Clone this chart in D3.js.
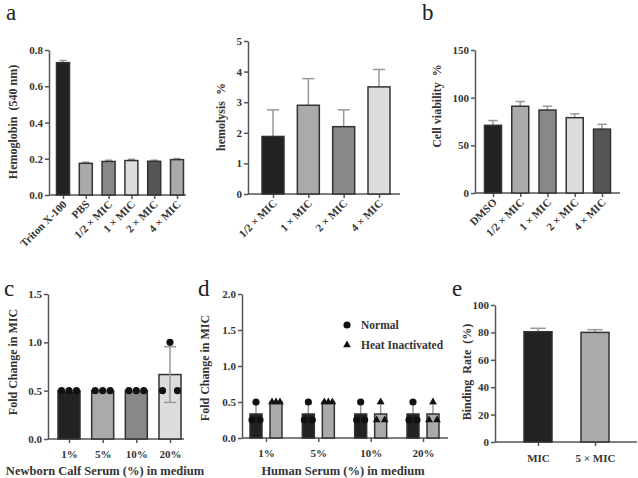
<!DOCTYPE html>
<html>
<head>
<meta charset="utf-8">
<script src="https://cdnjs.cloudflare.com/ajax/libs/d3/7.8.5/d3.min.js"></script>
<style>
  body { margin: 0; background: #fff; }
  svg text { font-family: "Liberation Serif", "Times New Roman", serif; white-space: pre; }
</style>
</head>
<body>
<div id="chart"></div>
<script>
// panel a (left): hemoglobin
const hemoCats = ['Triton X-100', 'PBS', '1/2 × MIC', '1 × MIC', '2 × MIC', '4 × MIC'];
const hemoVals = [0.73, 0.175, 0.185, 0.19, 0.186, 0.195];
const hemoErrs = [0.012, 0.006, 0.007, 0.007, 0.006, 0.006];
// panel a (right): hemolysis %
const lysisCats = ['1/2 × MIC', '1 × MIC', '2 × MIC', '4 × MIC'];
const lysisVals = [1.88, 2.9, 2.2, 3.5];
const lysisErrs = [0.87, 0.87, 0.55, 0.57];
// panel b: cell viability
const viaCats = ['DMSO', '1/2 × MIC', '1 × MIC', '2 × MIC', '4 × MIC'];
const viaVals = [71, 91, 87, 79, 67];
const viaErrs = [5, 5, 4, 4, 5];
// panel c: newborn calf serum
const calfCats = ['1%', '5%', '10%', '20%'];
const calfPoints = [[0.5, 0.5, 0.5], [0.5, 0.5, 0.5], [0.5, 0.5, 0.5], [0.5, 1.0, 0.5]];
// panel d: human serum
const humanCats = ['1%', '5%', '10%', '20%'];
const humanNormal = [[0.25, 0.5, 0.25], [0.25, 0.5, 0.25], [0.25, 0.5, 0.25], [0.25, 0.5, 0.25]];
const humanHeat = [[0.5, 0.5, 0.5], [0.5, 0.5, 0.5], [0.25, 0.5, 0.25], [0.25, 0.5, 0.25]];
// panel e: binding rate
const bindCats = ['MIC', '5 × MIC'];
const bindVals = [80.5, 80];
const bindErrs = [2.5, 2];

const W = 638, H = 478;
const axisColor = '#555';
const barStroke = '#333';
const errColor = '#999';

const svg = d3.select('#chart').append('svg')
    .attr('width', W).attr('height', H);

function mean(a){ return d3.mean(a); }
function sd(a){ return d3.deviation(a); }

function drawPanel(cfg){
    const g = svg.append('g');
    const y = d3.scaleLinear().domain([0, cfg.yMax]).range([cfg.yBot, cfg.yTop]);
    const x = d3.scalePoint().domain(cfg.cats).range([cfg.c0, cfg.c1]);

    // y axis
    const ya = g.append('g')
        .attr('transform', 'translate(' + cfg.x0 + ',0)')
        .call(d3.axisLeft(y).tickValues(cfg.ticks).tickFormat(cfg.fmt).tickSize(4).tickSizeOuter(0));
    ya.select('.domain').attr('stroke', axisColor).attr('stroke-width', 1.5);
    ya.selectAll('.tick line').attr('stroke', axisColor).attr('stroke-width', 1.5);
    ya.selectAll('.tick text').attr('fill', '#333').attr('font-size', 11).attr('font-weight', 'bold')
        .attr('x', -6);

    // x axis
    const xa = g.append('g')
        .attr('transform', 'translate(0,' + cfg.yBot + ')')
        .call(d3.axisBottom(x).tickSize(4).tickSizeOuter(0));
    xa.select('.domain').remove();
    xa.selectAll('.tick line').attr('stroke', axisColor).attr('stroke-width', 1.5);
    const xt = xa.selectAll('.tick text').attr('fill', '#333').attr('font-size', 11).attr('font-weight', 'bold');
    if(cfg.rotate){
        xt.attr('text-anchor', 'end').attr('dy', 0).attr('y', 0)
          .attr('transform', 'translate(4,10) rotate(-45)');
    } else {
        xt.attr('y', cfg.xLabelDy || 10);
    }
    g.append('line')
        .attr('x1', cfg.x0).attr('x2', cfg.x1)
        .attr('y1', cfg.yBot).attr('y2', cfg.yBot)
        .attr('stroke', axisColor).attr('stroke-width', 1.5);

    // y label
    g.append('text')
        .attr('transform', 'translate(' + cfg.ylabelX + ',' + cfg.ylabelY + ') rotate(-90)')
        .attr('text-anchor', 'middle')
        .attr('font-size', 12).attr('font-weight', 'bold').attr('fill', '#333')
        .text(cfg.ylabel);
    return {g: g, x: x, y: y};
}

function drawBars(p, cats, vals, errs, colors, bw, offset, both){
    const data = cats.map(function(c, i){ return {c: c, v: vals[i], e: errs[i], col: colors[i]}; });
    const off = offset || 0;
    // one-sided error bars sit behind the bar
    const eg = p.g.append('g');
    p.g.selectAll(null).data(data).enter().append('rect')
        .attr('x', function(d){ return p.x(d.c) + off - bw / 2; })
        .attr('y', function(d){ return p.y(d.v); })
        .attr('width', bw)
        .attr('height', function(d){ return p.y(0) - p.y(d.v); })
        .attr('fill', function(d){ return d.col; })
        .attr('stroke', barStroke).attr('stroke-width', 1.5);
    const target = both ? p.g.append('g') : eg;
    const cw = bw * 0.55;
    data.forEach(function(d){
        const cx = p.x(d.c) + off;
        const lo = both ? d.v - d.e : d.v;
        target.append('line').attr('x1', cx).attr('x2', cx)
            .attr('y1', p.y(lo)).attr('y2', p.y(d.v + d.e))
            .attr('stroke', errColor).attr('stroke-width', 1.5);
        target.append('line').attr('x1', cx - cw / 2).attr('x2', cx + cw / 2)
            .attr('y1', p.y(d.v + d.e)).attr('y2', p.y(d.v + d.e))
            .attr('stroke', errColor).attr('stroke-width', 1.5);
        if(both){
            target.append('line').attr('x1', cx - cw / 2).attr('x2', cx + cw / 2)
                .attr('y1', p.y(lo)).attr('y2', p.y(lo))
                .attr('stroke', errColor).attr('stroke-width', 1.5);
        }
    });
}

function drawPoints(p, cats, pts, offset, spread, shape){
    const off = offset || 0;
    const sym = d3.symbol().type(shape === 'tri' ? d3.symbolTriangle : d3.symbolCircle)
        .size(shape === 'tri' ? 26 : 40);
    cats.forEach(function(c, i){
        pts[i].forEach(function(v, j){
            const px = p.x(c) + off + (j - 1) * spread;
            p.g.append('path').attr('d', sym)
                .attr('transform', 'translate(' + px + ',' + p.y(v) + ')')
                .attr('fill', '#111');
        });
    });
}

function panelLetter(t, x, y){
    svg.append('text').attr('x', x).attr('y', y)
        .attr('font-size', 23).attr('fill', '#222').text(t);
}

// ---- panel a left
const pa1 = drawPanel({cats: hemoCats, c0: 63, c1: 177, x0: 49, x1: 186, yTop: 50, yBot: 195,
    yMax: 0.8, ticks: [0, 0.2, 0.4, 0.6, 0.8], fmt: d3.format('.1f'), rotate: true,
    ylabel: 'Hemoglobin  (540 nm)', ylabelX: 17, ylabelY: 122});
drawBars(pa1, hemoCats, hemoVals, hemoErrs, ['#222', '#aaa', '#888', '#ddd', '#555', '#aaa'], 13);

// ---- panel a right
const pa2 = drawPanel({cats: lysisCats, c0: 273, c1: 379, x0: 248, x1: 400, yTop: 41, yBot: 194,
    yMax: 5, ticks: [0, 1, 2, 3, 4, 5], fmt: d3.format('d'), rotate: true,
    ylabel: 'hemolysis  %', ylabelX: 225, ylabelY: 117});
drawBars(pa2, lysisCats, lysisVals, lysisErrs, ['#222', '#aaa', '#888', '#ddd'], 22);

// ---- panel b
const pb = drawPanel({cats: viaCats, c0: 493, c1: 602, x0: 475, x1: 620, yTop: 50, yBot: 193,
    yMax: 150, ticks: [0, 50, 100, 150], fmt: d3.format('d'), rotate: true,
    ylabel: 'Cell viability  %', ylabelX: 441, ylabelY: 106});
drawBars(pb, viaCats, viaVals, viaErrs, ['#222', '#aaa', '#888', '#ddd', '#555'], 17);

// ---- panel c
const pc = drawPanel({cats: calfCats, c0: 69, c1: 170, x0: 48, x1: 184, yTop: 294, yBot: 439,
    yMax: 1.5, ticks: [0, 0.5, 1.0, 1.5], fmt: d3.format('.1f'),
    ylabel: 'Fold Change in MIC', ylabelX: 17, ylabelY: 362, xLabelDy: 11});
drawBars(pc, calfCats, calfPoints.map(mean), calfPoints.map(sd), ['#222', '#aaa', '#888', '#ddd'], 22, 0, true);
drawPoints(pc, calfCats, calfPoints, 0, 7.5, 'dot');
svg.append('text').attr('x', 105).attr('y', 475).attr('text-anchor', 'middle')
    .attr('font-size', 12.5).attr('font-weight', 'bold').attr('fill', '#333')
    .text('Newborn Calf Serum (%) in medium');

// ---- panel d
const pd = drawPanel({cats: humanCats, c0: 266, c1: 423, x0: 242, x1: 448, yTop: 294, yBot: 438,
    yMax: 2.0, ticks: [0, 0.5, 1.0, 1.5, 2.0], fmt: d3.format('.1f'),
    ylabel: 'Fold Change in MIC', ylabelX: 209, ylabelY: 368, xLabelDy: 11});
drawBars(pd, humanCats, humanNormal.map(mean), humanNormal.map(sd), humanCats.map(function(){ return '#222'; }), 12, -10);
drawBars(pd, humanCats, humanHeat.map(mean), humanHeat.map(sd), humanCats.map(function(){ return '#aaa'; }), 12, 10);
drawPoints(pd, humanCats, humanNormal, -10, 4, 'dot');
drawPoints(pd, humanCats, humanHeat, 10, 4, 'tri');
svg.append('text').attr('x', 343).attr('y', 475).attr('text-anchor', 'middle')
    .attr('font-size', 12.5).attr('font-weight', 'bold').attr('fill', '#333')
    .text('Human Serum (%) in medium');
// legend
const legendItems = ['Normal', 'Heat Inactivated'];
legendItems.forEach(function(t, i){
    const ly = 325 + i * 20;
    svg.append('path')
        .attr('d', d3.symbol().type(i === 0 ? d3.symbolCircle : d3.symbolTriangle).size(i === 0 ? 40 : 26))
        .attr('transform', 'translate(347,' + ly + ')').attr('fill', '#111');
    svg.append('text').attr('x', 361).attr('y', ly + 4)
        .attr('font-size', 11.5).attr('font-weight', 'bold').attr('fill', '#333').text(t);
});

// ---- panel e
const pe = drawPanel({cats: bindCats, c0: 538, c1: 595, x0: 495, x1: 637, yTop: 305, yBot: 442,
    yMax: 100, ticks: [0, 20, 40, 60, 80, 100], fmt: d3.format('d'),
    ylabel: 'Binding  Rate  (%)', ylabelX: 471, ylabelY: 372, xLabelDy: 12});
drawBars(pe, bindCats, bindVals, bindErrs, ['#222', '#aaa'], 28);

panelLetter('a', 6, 20);
panelLetter('b', 422, 20);
panelLetter('c', 4, 296);
panelLetter('d', 198, 296);
panelLetter('e', 452, 296);
</script>
</body>
</html>
